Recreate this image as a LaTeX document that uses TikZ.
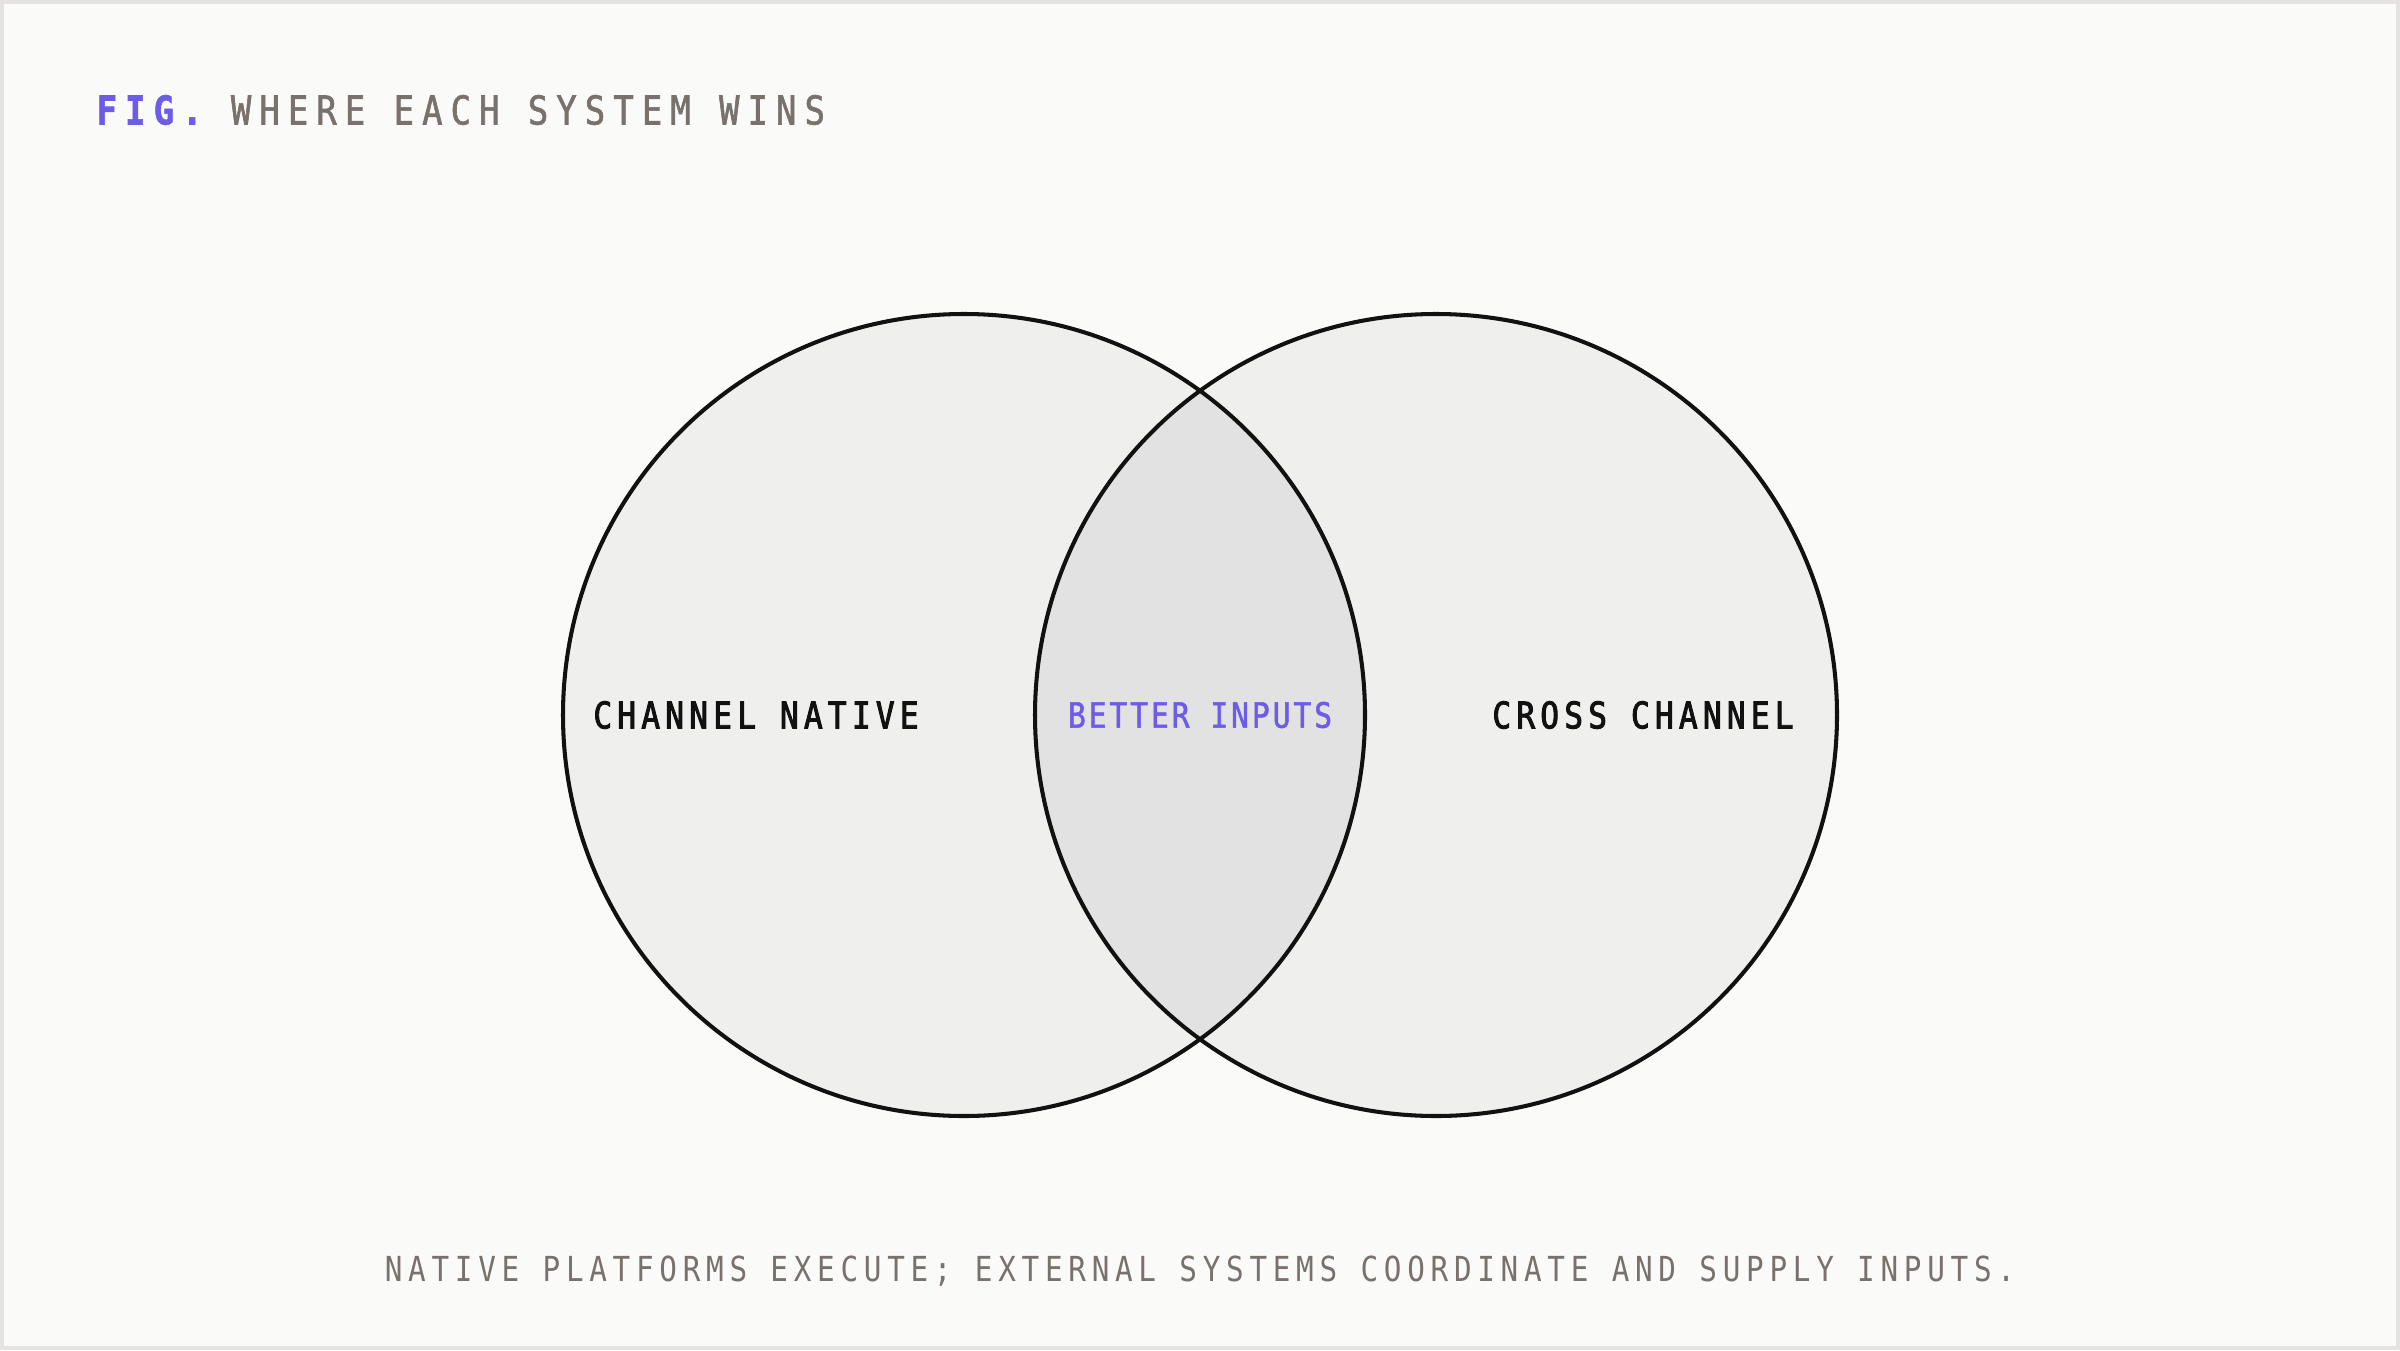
\documentclass[tikz,border=0pt]{standalone}
\usepackage{fontspec}
\newfontfamily\titlefont{DejaVu Sans Mono}[LetterSpace=20.5,FakeStretch=0.85,FakeBold=1.5]
\newfontfamily\labelfont{DejaVu Sans Mono}[LetterSpace=14.4,FakeStretch=0.85,FakeBold=2.5]
\newfontfamily\midfont{DejaVu Sans Mono}[LetterSpace=8.5,FakeStretch=0.85,FakeBold=1.5]
\newfontfamily\capfont{DejaVu Sans Mono}[LetterSpace=16.6,FakeStretch=0.85]
\definecolor{bg}{HTML}{FAFAF9}
\definecolor{frame}{HTML}{E4E3E1}
\definecolor{setfill}{HTML}{EFEFEE}
\definecolor{overlap}{HTML}{E2E2E2}
\definecolor{accent}{HTML}{6C5CE7}
\definecolor{muted}{HTML}{78716C}
\definecolor{ink}{HTML}{111111}
\begin{document}
\begin{tikzpicture}[x=0.01cm,y=0.01cm,
  setline/.style={draw=ink,line width=1.15pt},
  lbl/.style={inner sep=0pt,text=ink,font=\labelfont\fontsize{10.4}{12}\selectfont},
  midlbl/.style={inner sep=0pt,text=accent,font=\midfont\fontsize{9.9}{12}\selectfont},
  ttl/.style={inner sep=0pt,font=\titlefont\fontsize{11.3}{13}\selectfont},
  captxt/.style={inner sep=0pt,text=muted,font=\capfont\fontsize{9.8}{12}\selectfont}]
\useasboundingbox (0,0) rectangle (2400,1350);
\fill[frame] (0,0) rectangle (2400,1350);
\fill[bg] (4,4) rectangle (2396,1346);
% sets
\fill[setfill] (964,635) circle [radius=401];
\fill[setfill] (1436,635) circle [radius=401];
\begin{scope}
  \clip (964,635) circle [radius=401];
  \fill[overlap] (1436,635) circle [radius=401];
\end{scope}
\draw[setline] (964,635) circle [radius=401];
\draw[setline] (1436,635) circle [radius=401];
% labels
\node[ttl,anchor=west] (title) at (96,1240) {\textcolor{accent}{\bfseries FIG.}\ \textcolor{muted}{WHERE EACH SYSTEM WINS}};
\node[lbl] (native) at (756,635) {CHANNEL NATIVE};
\node[midlbl] (better) at (1200,635) {BETTER INPUTS};
\node[lbl] (cross) at (1643,635) {CROSS CHANNEL};
\node[captxt,anchor=base] (caption) at (1200,69) {NATIVE PLATFORMS EXECUTE; EXTERNAL SYSTEMS COORDINATE AND SUPPLY INPUTS.};
\end{tikzpicture}
\end{document}
